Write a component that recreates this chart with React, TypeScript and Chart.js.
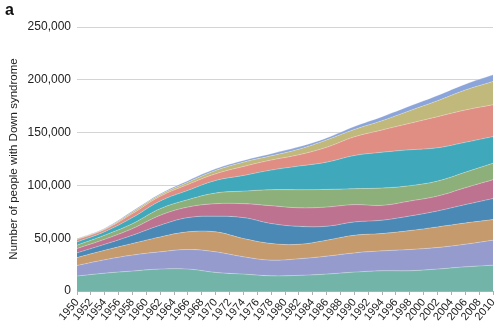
import React, { useEffect, useRef } from "react";
import { Chart, registerables } from "chart.js";

Chart.register(...registerables);

const YEARS = [1950, 1954, 1958, 1962, 1966, 1970, 1974, 1978, 1982, 1986, 1990, 1994, 1998, 2002, 2006, 2010];

const LAYER_1 = [14200, 16900, 18900, 20800, 20800, 17600, 16000, 14400, 14800, 16000, 17900, 19200, 19200, 20800, 22900, 24500];
const LAYER_2 = [10000, 12700, 15100, 16300, 18500, 19500, 16400, 14800, 15700, 17000, 18200, 18800, 20100, 20400, 21400, 23600];
const LAYER_3 = [7500, 9000, 11000, 14100, 16700, 18900, 17300, 15800, 13700, 15100, 16700, 16400, 17900, 19500, 20100, 19500];
const LAYER_4 = [4400, 5600, 7800, 11100, 13500, 14800, 19800, 18900, 17000, 13200, 12600, 12600, 13800, 15100, 17400, 19900];
const LAYER_5 = [4200, 4800, 6300, 9400, 10000, 11900, 13200, 16900, 17600, 18200, 16400, 14100, 14200, 14100, 16000, 17900];
const LAYER_6 = [3100, 3900, 4700, 6300, 7000, 10100, 11900, 15100, 17100, 16700, 15100, 16400, 14500, 14200, 14700, 15600];
const LAYER_7 = [3100, 3300, 5700, 7200, 8800, 11900, 14800, 18600, 22400, 25800, 31400, 33900, 34000, 31500, 28300, 25200];
const LAYER_8 = [2200, 2000, 3800, 4500, 5600, 6300, 8500, 9500, 10700, 14100, 17700, 21100, 25100, 29500, 30600, 30200];
const LAYER_9 = [600, 700, 1500, 1400, 2100, 3200, 4100, 4000, 5300, 7000, 7000, 8800, 12000, 15100, 18900, 22000];
const LAYER_10 = [400, 600, 1000, 1100, 1500, 1500, 1600, 2000, 2200, 1900, 2800, 3800, 4400, 5000, 5600, 6300];

const LAYERS = [LAYER_1, LAYER_2, LAYER_3, LAYER_4, LAYER_5, LAYER_6, LAYER_7, LAYER_8, LAYER_9, LAYER_10];
const LAYER_NAMES = ["Layer 1", "Layer 2", "Layer 3", "Layer 4", "Layer 5", "Layer 6", "Layer 7", "Layer 8", "Layer 9", "Layer 10"];
const COLORS = ["#73b4a9", "#959bcd", "#c59a6c", "#4a88b6", "#bd7390", "#8db07a", "#3fa8bb", "#e08d83", "#c0b97b", "#8ba4d9"];

const Y_TITLE = "Number of people with Down syndrome";
const PANEL_LABEL = "a";
const FONT = "'Liberation Sans', Arial, Helvetica, sans-serif";

export default function App() {
  const ref = useRef<HTMLCanvasElement>(null);

  useEffect(() => {
    Chart.defaults.font.family = FONT;
    const chart = new Chart(ref.current!, {
      type: "line",
      data: {
        datasets: LAYERS.map((vals, i) => ({
          label: LAYER_NAMES[i],
          data: YEARS.map((x, j) => ({ x, y: vals[j] })),
          backgroundColor: COLORS[i],
          borderColor: "rgba(255,255,255,0.35)",
          borderWidth: 0.8,
          fill: i === 0 ? "origin" : "-1",
          pointRadius: 0,
          tension: 0.4,
        })),
      },
      options: {
        responsive: false,
        animation: false,
        layout: { padding: { top: 27, right: 2, left: 0, bottom: 0 } },
        plugins: { legend: { display: false }, tooltip: { enabled: false } },
        scales: {
          x: {
            type: "linear",
            min: 1950,
            max: 2010,
            afterFit: (s: any) => {
              s.height = 34;
              s.paddingLeft = 0;
              s.paddingRight = 0;
            },
            grid: { display: true, drawOnChartArea: false, drawTicks: true, tickLength: 4, color: "#b0b0b0" },
            border: { display: true, color: "#b0b0b0" },
            ticks: {
              stepSize: 2,
              autoSkip: false,
              maxRotation: 50,
              minRotation: 50,
              padding: 1,
              color: "#222",
              font: { size: 11, family: FONT },
              callback: (v: any) => String(v),
            },
          },
          y: {
            stacked: true,
            min: 0,
            max: 250000,
            afterFit: (s: any) => {
              s.width = 77;
            },
            grid: { color: "#d4d4d4", drawTicks: false },
            border: { display: false },
            ticks: {
              stepSize: 50000,
              padding: 6,
              color: "#222",
              font: { size: 12, family: FONT },
              callback: (v: any) => Number(v).toLocaleString("en-US"),
            },
            title: {
              display: true,
              text: Y_TITLE,
              padding: { top: 7, bottom: 0 },
              color: "#222",
              font: { size: 11.5, family: FONT },
            },
          },
        },
      },
    });
    return () => chart.destroy();
  }, []);

  return (
    <div style={{ position: "absolute", left: 0, top: 0, width: 495, height: 325, background: "#fff" }}>
      <canvas ref={ref} width={495} height={325} style={{ display: "block" }} />
      <div
        style={{
          position: "absolute",
          left: 5,
          top: 1,
          fontFamily: FONT,
          fontWeight: "bold",
          fontSize: 16,
          lineHeight: "18px",
          color: "#111",
        }}
      >
        {PANEL_LABEL}
      </div>
    </div>
  );
}
